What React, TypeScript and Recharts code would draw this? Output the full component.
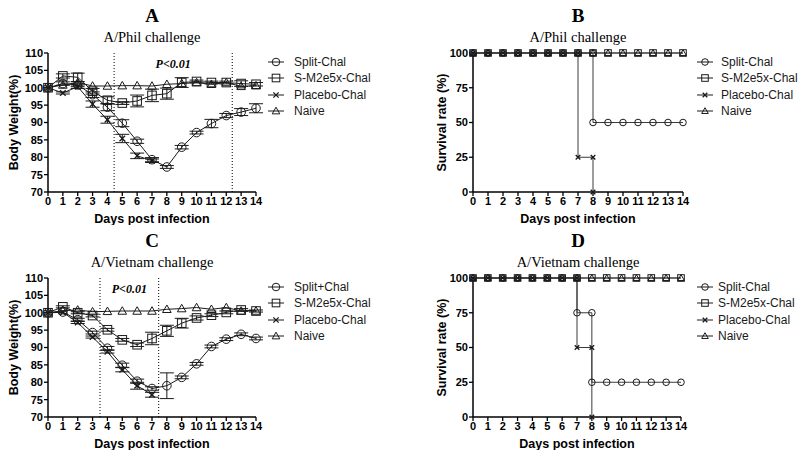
import React from "react";
import {
  LineChart,
  Line,
  XAxis,
  YAxis,
  ErrorBar,
  ReferenceLine,
  ReferenceArea,
} from "recharts";

const DAYS = [0, 1, 2, 3, 4, 5, 6, 7, 8, 9, 10, 11, 12, 13, 14];
const WEIGHT_TICKS = [70, 75, 80, 85, 90, 95, 100, 105, 110];
const SURV_TICKS = [0, 25, 50, 75, 100];

// A/Phil body weight (%)
const philSplit = [100, 101.2, 100.8, 98.0, 94.4, 89.8, 84.6, 79.3, 77.2, 82.9, 87.1, 89.7, 92.0, 93.0, 94.1];
const philSplitErr = [0, 0.5, 0.5, 0.8, 1.0, 1.0, 0.6, 0.6, 0.4, 0.5, 0.4, 1.2, 0.6, 1.0, 1.3];
const philSM2 = [100, 103.4, 103.0, 99.0, 96.4, 95.6, 96.2, 97.8, 98.3, 101.5, 101.8, 101.5, 101.5, 101.2, 101.0];
const philSM2Err = [0, 0.6, 1.2, 0.8, 1.0, 0.4, 1.7, 1.8, 1.6, 1.4, 0.4, 0.4, 0.4, 0.8, 0.5];
const philPlacebo = [100, 98.5, 100.3, 95.3, 90.8, 85.4, 80.4, 79.0, null, null, null, null, null, null, null];
const philPlaceboErr = [0, 0.3, 0.5, 0.9, 1.0, 1.2, 0.8, 0.5, null, null, null, null, null, null, null];
const philNaive = [100, 100.8, 101.5, 100.5, 100.5, 100.6, 100.6, 100.5, 101.0, 101.2, 101.5, 101.0, 101.5, 100.4, 100.6];
const philSigWindow = [4.45, 12.4];

// A/Vietnam body weight (%)
const vietSplit = [100, 100.2, 98.0, 94.3, 89.8, 84.9, 80.3, 78.2, 79.0, 81.4, 85.3, 90.3, 92.4, 93.8, 92.6];
const vietSplitErr = [0, 0, 0.4, 0.4, 0.5, 0.6, 0.6, 0.5, 3.7, 0.4, 0.4, 0.4, 0.4, 0.4, 0.4];
const vietSM2 = [100, 101.7, 100.0, 99.2, 95.1, 92.2, 90.8, 92.6, 94.8, 97.0, 98.5, 99.3, 100.1, 100.8, 100.5];
const vietSM2Err = [0, 0.3, 0.3, 0.4, 0.4, 0.4, 0.5, 1.8, 1.6, 1.4, 0.6, 0.4, 0.4, 0.4, 0.3];
const vietPlacebo = [100, 100.1, 97.2, 93.0, 88.8, 83.6, 79.0, 76.4, null, null, null, null, null, null, null];
const vietPlaceboErr = [0, 0, 0.3, 0.3, 0.4, 0.6, 1.0, 0.7, null, null, null, null, null, null, null];
const vietNaive = [100, 100.6, 100.8, 100.3, 100.4, 100.5, 100.5, 100.5, 101.0, 101.2, 101.5, 101.0, 101.5, 100.5, 100.5];
const vietSigWindow = [3.5, 7.45];

// survival (%), step curves: day / value pairs
const philSurvSplitDays = [0, 1, 2, 3, 4, 5, 6, 7, 8, 8, 9, 10, 11, 12, 13, 14];
const philSurvSplit = [100, 100, 100, 100, 100, 100, 100, 100, 100, 50, 50, 50, 50, 50, 50, 50];
const philSurvPlaceboDays = [0, 1, 2, 3, 4, 5, 6, 7, 7, 8, 8];
const philSurvPlacebo = [100, 100, 100, 100, 100, 100, 100, 100, 25, 25, 0];
const vietSurvSplitDays = [0, 1, 2, 3, 4, 5, 6, 7, 7, 8, 8, 9, 10, 11, 12, 13, 14];
const vietSurvSplit = [100, 100, 100, 100, 100, 100, 100, 100, 75, 75, 25, 25, 25, 25, 25, 25, 25];
const vietSurvPlaceboDays = [0, 1, 2, 3, 4, 5, 6, 7, 7, 8, 8];
const vietSurvPlacebo = [100, 100, 100, 100, 100, 100, 100, 100, 50, 50, 0];
const survAllDays = DAYS;
const survAll = [100, 100, 100, 100, 100, 100, 100, 100, 100, 100, 100, 100, 100, 100, 100];

const LABELS = ["Split-Chal", "S-M2e5x-Chal", "Placebo-Chal", "Naive"];
const LABELS_C = ["Split+Chal", "S-M2e5x-Chal", "Placebo-Chal", "Naive"];
const SHAPES = ["circle", "square", "cross", "triangle"];

const INK = "#1a1a1a";
const SANS = "'Liberation Sans', Arial, sans-serif";
const SERIF = "'Liberation Serif', 'Times New Roman', serif";

function Marker({ shape, cx, cy, s, color }) {
  if (cx == null || cy == null) return null;
  if (shape === "circle")
    return <circle cx={cx} cy={cy} r={s} fill="none" stroke={color} strokeWidth={1} />;
  if (shape === "square")
    return <rect x={cx - s} y={cy - s} width={2 * s} height={2 * s} fill="none" stroke={color} strokeWidth={1} />;
  if (shape === "triangle")
    return (
      <polygon
        points={`${cx},${cy - s} ${cx - s},${cy + s * 0.75} ${cx + s},${cy + s * 0.75}`}
        fill="none"
        stroke={color}
        strokeWidth={1}
      />
    );
  const c = s * 0.7;
  return (
    <g stroke={color} strokeWidth={1.3}>
      <line x1={cx - c} y1={cy - c} x2={cx + c} y2={cy + c} />
      <line x1={cx - c} y1={cy + c} x2={cx + c} y2={cy - c} />
    </g>
  );
}

const makeDot = (shape, s, color, name) => (p) => (
  <g key={`${name}-${p.index}`}>
    <Marker shape={shape} cx={p.cx} cy={p.cy} s={s} color={color} />
  </g>
);

function Legend({ left, top, labels, textLeft, s }) {
  return (
    <div style={{ position: "absolute", left, top, fontFamily: SANS, fontSize: 12, color: INK }}>
      {labels.map((lab, i) => (
        <div key={lab} style={{ position: "absolute", top: i * 16.3 - 8, left: 0, height: 16, whiteSpace: "nowrap" }}>
          <svg width={16} height={16} style={{ position: "absolute", left: 0, top: 0 }}>
            <line x1={0} y1={8} x2={16} y2={8} stroke={INK} strokeWidth={1} />
            <Marker shape={SHAPES[i]} cx={8} cy={8} s={s} color={INK} />
          </svg>
          <span style={{ position: "absolute", left: textLeft, top: 1, lineHeight: "14px" }}>{lab}</span>
        </div>
      ))}
    </div>
  );
}

function Titles({ cx, top, letter, sub }) {
  return (
    <>
      <div style={{ position: "absolute", left: cx - 60, width: 120, top: top + 5, textAlign: "center", fontFamily: SERIF, fontWeight: "bold", fontSize: 19, lineHeight: "22px", color: "#000" }}>
        {letter}
      </div>
      <div style={{ position: "absolute", left: cx - 100, width: 200, top: top + 28, textAlign: "center", fontFamily: SERIF, fontSize: 14.5, lineHeight: "18px", color: "#000" }}>
        {sub}
      </div>
    </>
  );
}

const tickStyle = { fill: "#000", fontSize: 11, fontWeight: "bold", fontFamily: SANS };
const titleStyle = { fill: "#000", fontSize: 12.5, fontWeight: "bold", fontFamily: SANS, textAnchor: "middle" };

function WeightChart({ left, top, series, window, labels }) {
  const data = DAYS.map((d, i) => ({
    day: d,
    split: series.split[i],
    splitErr: series.splitErr[i],
    sm2: series.sm2[i],
    sm2Err: series.sm2Err[i],
    placebo: series.placebo[i],
    placeboErr: series.placeboErr[i],
    naive: series.naive[i],
  }));
  const keys = ["split", "sm2", "placebo", "naive"];
  return (
    <div style={{ position: "absolute", left, top }}>
      <Titles cx={152} top={0} letter={series.letter} sub={series.sub} />
      <LineChart width={280} height={225} data={data} margin={{ top: 53, right: 24, left: 0, bottom: 0 }}>
        <XAxis
          dataKey="day"
          type="number"
          domain={[0, 14]}
          ticks={DAYS}
          interval={0}
          height={33}
          tickSize={4}
          tickMargin={1}
          tick={tickStyle}
          axisLine={{ stroke: "#000", strokeWidth: 1.5 }}
          tickLine={{ stroke: "#000", strokeWidth: 1.3 }}
          label={{ value: "Days post infection", position: "insideBottom", offset: 2, style: titleStyle }}
        />
        <YAxis
          type="number"
          domain={[70, 110]}
          ticks={WEIGHT_TICKS}
          interval={0}
          width={48}
          tickSize={4}
          tickMargin={1}
          allowDataOverflow
          tick={tickStyle}
          axisLine={{ stroke: "#000", strokeWidth: 1.5 }}
          tickLine={{ stroke: "#000", strokeWidth: 1.3 }}
          label={{ value: "Body Weight(%)", angle: -90, position: "insideLeft", offset: 14, style: titleStyle }}
        />
        <ReferenceArea
          x1={window[0]}
          x2={window[1]}
          fillOpacity={0}
          strokeOpacity={0}
          label={{
            value: "P<0.01",
            position: "insideTop",
            offset: 6,
            style: { fill: "#000", fontFamily: SERIF, fontStyle: "italic", fontWeight: "bold", fontSize: 12 },
          }}
        />
        <ReferenceLine x={window[0]} stroke="#000" strokeDasharray="1 2" />
        <ReferenceLine x={window[1]} stroke="#000" strokeDasharray="1 2" />
        {keys.map((k, i) => (
          <Line
            key={k}
            dataKey={k}
            name={labels[i]}
            type="linear"
            stroke={INK}
            strokeWidth={1}
            isAnimationActive={false}
            connectNulls={false}
            dot={makeDot(SHAPES[i], i === 2 ? 4 : 4.3, INK, k)}
            activeDot={false}
          >
            {k !== "naive" && (
              <ErrorBar dataKey={`${k}Err`} width={7} stroke={INK} strokeWidth={1} direction="y" />
            )}
          </Line>
        ))}
      </LineChart>
      <Legend left={268} top={series.legendTop} labels={labels} textLeft={26} s={3.8} />
    </div>
  );
}

function SurvivalChart({ left, top, letter, sub, splitDays, split, placeboDays, placebo, right, legendText }) {
  const toPts = (ds, vs) => ds.map((d, i) => ({ day: d, v: vs[i] }));
  const lines = [
    { key: "split", data: toPts(splitDays, split) },
    { key: "sm2", data: toPts(survAllDays, survAll) },
    { key: "placebo", data: toPts(placeboDays, placebo) },
    { key: "naive", data: toPts(survAllDays, survAll) },
  ];
  return (
    <div style={{ position: "absolute", left, top }}>
      <Titles cx={178} top={0} letter={letter} sub={sub} />
      <LineChart width={400} height={225} margin={{ top: 53, right, left: 0, bottom: 0 }}>
        <XAxis
          dataKey="day"
          type="number"
          domain={[0, 14]}
          ticks={DAYS}
          interval={0}
          height={33}
          tickSize={4}
          tickMargin={1}
          allowDuplicatedCategory
          tick={tickStyle}
          axisLine={{ stroke: "#000", strokeWidth: 1.5 }}
          tickLine={{ stroke: "#000", strokeWidth: 1.3 }}
          label={{ value: "Days post infection", position: "insideBottom", offset: 2, style: titleStyle }}
        />
        <YAxis
          type="number"
          domain={[0, 100]}
          ticks={SURV_TICKS}
          interval={0}
          width={73}
          tickSize={4}
          tickMargin={1}
          tick={tickStyle}
          axisLine={{ stroke: "#000", strokeWidth: 1.5 }}
          tickLine={{ stroke: "#000", strokeWidth: 1.3 }}
          label={{ value: "Survival rate (%)", angle: -90, position: "insideLeft", offset: 42, style: titleStyle }}
        />
        {lines.map((l, i) => (
          <Line
            key={l.key}
            data={l.data}
            dataKey="v"
            type="linear"
            stroke="#3a3a3a"
            strokeWidth={1}
            isAnimationActive={false}
            dot={makeDot(SHAPES[i], 3.3, INK, l.key)}
            activeDot={false}
          />
        ))}
      </LineChart>
      <Legend left={297} top={62} labels={LABELS} textLeft={legendText} s={3.3} />
    </div>
  );
}

export default function App() {
  return (
    <div style={{ position: "absolute", left: 0, top: 0, width: 800, height: 457, background: "#fff", overflow: "hidden" }}>
      <WeightChart
        left={0}
        top={0}
        labels={LABELS}
        window={philSigWindow}
        series={{
          letter: "A",
          sub: "A/Phil challenge",
          legendTop: 62,
          split: philSplit,
          splitErr: philSplitErr,
          sm2: philSM2,
          sm2Err: philSM2Err,
          placebo: philPlacebo,
          placeboErr: philPlaceboErr,
          naive: philNaive,
        }}
      />
      <SurvivalChart
        left={400}
        top={0}
        letter="B"
        sub="A/Phil challenge"
        splitDays={philSurvSplitDays}
        split={philSurvSplit}
        placeboDays={philSurvPlaceboDays}
        placebo={philSurvPlacebo}
        right={117}
        legendText={24}
      />
      <WeightChart
        left={0}
        top={225}
        labels={LABELS_C}
        window={vietSigWindow}
        series={{
          letter: "C",
          sub: "A/Vietnam challenge",
          legendTop: 62,
          split: vietSplit,
          splitErr: vietSplitErr,
          sm2: vietSM2,
          sm2Err: vietSM2Err,
          placebo: vietPlacebo,
          placeboErr: vietPlaceboErr,
          naive: vietNaive,
        }}
      />
      <SurvivalChart
        left={400}
        top={225}
        letter="D"
        sub="A/Vietnam challenge"
        splitDays={vietSurvSplitDays}
        split={vietSurvSplit}
        placeboDays={vietSurvPlaceboDays}
        placebo={vietSurvPlacebo}
        right={119}
        legendText={21}
      />
    </div>
  );
}
